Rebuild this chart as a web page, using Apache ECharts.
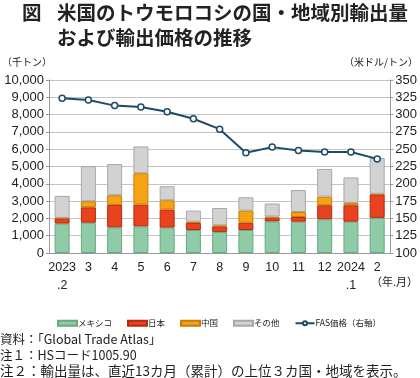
<!DOCTYPE html>
<html><head><meta charset="utf-8">
<script src="https://cdn.jsdelivr.net/npm/echarts@6/dist/echarts.min.js"></script>
<style>html,body{margin:0;padding:0;background:#fff}#c{width:420px;height:378px}</style>
</head><body><div id="c"></div>
<script>
const categories = ['2023\n.2','3','4','5','6','7','8','9','10','11','12','2024\n.1','2'];
const mexico = [1700,1750,1480,1540,1470,1330,1220,1330,1830,1810,1950,1810,2030];
const japan  = [300,890,1300,1260,1040,410,320,420,180,270,810,950,1350];
const china  = [30,350,560,1810,540,70,60,700,100,290,500,140,40];
const other  = [1270,2030,1800,1550,810,640,1000,770,750,1270,1600,1470,2070];
const fasPrice = [323.5,321,313,311,304,294,279,245,253,248,246,246,236];
const leftTicks = [0,1000,2000,3000,4000,5000,6000,7000,8000,9000,10000];

const chart = echarts.init(document.getElementById('c'));
const JP = '"Noto Sans CJK JP", sans-serif';
const NUM = '"Liberation Sans", Arial, sans-serif';
function barSeries(name, data, color, border){
  return {name, type:'bar', stack:'t', data, barWidth:15, yAxisIndex:0,
    itemStyle:{color, borderColor:border, borderWidth:1}};
}
chart.setOption({
  animation:false,
  graphic:[
    {type:'text', left:22, top:3, style:{text:'図', font:'bold 19.5px '+JP, fill:'#222'}},
    {type:'text', left:57, top:3, style:{text:'米国のトウモロコシの国・地域別輸出量', font:'bold 19.5px '+JP, fill:'#222'}},
    {type:'text', left:57, top:28, style:{text:'および輸出価格の推移', font:'bold 19.5px '+JP, fill:'#222'}},
    {type:'text', left:2, top:57, style:{text:'（千トン）', font:'10px '+JP, fill:'#222'}},
    {type:'text', right:2, top:57, style:{text:'（米ドル/トン）', font:'10px '+JP, fill:'#222'}},
    {type:'text', right:2, top:276, style:{text:'（年.月）', font:'11px '+JP, fill:'#222'}},
    {type:'text', left:0, top:333, style:{text:'資料：「Global Trade Atlas」', font:'12.5px '+JP, fill:'#222'}},
    {type:'text', left:0, top:349, style:{text:'注１：HSコード1005.90', font:'12.5px '+JP, fill:'#222'}},
    {type:'text', left:0, top:364, style:{text:'注２：輸出量は、直近13カ月（累計）の上位３カ国・地域を表示。', font:'13.5px '+JP, fill:'#222'}}
  ],
  legend:{left:52, top:314, itemWidth:19, itemHeight:5, itemGap:15,
    textStyle:{fontFamily:JP, fontSize:8.5, color:'#222', padding:[0,0,0,-4]},
    data:[{name:'メキシコ',icon:'rect'},{name:'日本',icon:'rect'},{name:'中国',icon:'rect'},{name:'その他',icon:'rect'},{name:'FAS価格（右軸）'}]},
  grid:{left:49, right:29, top:80, bottom:125},
  xAxis:{type:'category', data:categories,
    axisLine:{lineStyle:{color:'#999'}}, axisTick:{lineStyle:{color:'#999'}, length:3},
    axisLabel:{interval:0, fontFamily:NUM, fontSize:12.5, color:'#222', margin:6, lineHeight:18}},
  yAxis:[
    {type:'value', min:0, max:10000, interval:1000,
      axisLine:{show:true, lineStyle:{color:'#999'}}, axisTick:{show:true, length:3, lineStyle:{color:'#999'}},
      splitLine:{lineStyle:{color:'#c4c4c4'}},
      axisLabel:{fontFamily:NUM, fontSize:13, color:'#222', margin:5,
        formatter:v=>v.toString().replace(/\B(?=(\d{3})+(?!\d))/g, ',')}},
    {type:'value', min:100, max:350, interval:25,
      axisLine:{show:true, lineStyle:{color:'#999'}}, axisTick:{show:true, length:3, lineStyle:{color:'#999'}},
      splitLine:{show:false},
      axisLabel:{fontFamily:NUM, fontSize:13, color:'#222', margin:5}}
  ],
  series:[
    barSeries('メキシコ', mexico, '#8ecba6', '#6aa884'),
    barSeries('日本', japan, '#e8421e', '#b52a10'),
    barSeries('中国', china, '#f5a312', '#c97c05'),
    barSeries('その他', other, '#d2d2d2', '#a8a8a8'),
    {name:'FAS価格（右軸）', type:'line', yAxisIndex:1, data:fasPrice,
      symbol:'circle', symbolSize:6, lineStyle:{color:'#1c4a68', width:2},
      itemStyle:{color:'#fff', borderColor:'#1c4a68', borderWidth:1.5}}
  ]
});
</script></body></html>
